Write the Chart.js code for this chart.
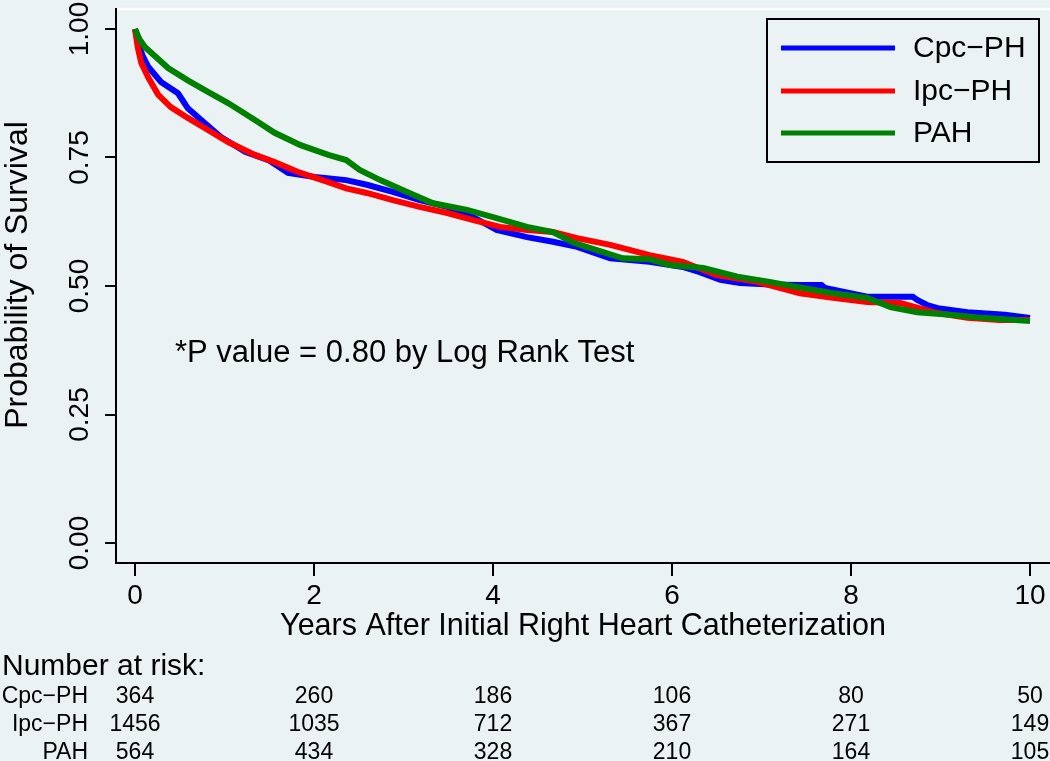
<!DOCTYPE html>
<html>
<head>
<meta charset="utf-8">
<script src="https://cdn.jsdelivr.net/npm/chart.js@4"></script>
<style>
html,body{margin:0;padding:0;background:#EAF2F3;}
canvas{display:block;}
</style>
</head>
<body>
<canvas id="km" width="1050" height="761"></canvas>
<script>
// curvas de sobrevida
const nomes = ["Cpc\u2212PH", "Ipc\u2212PH", "PAH"];
const cores = ["#0000FF", "#FF0000", "#008000"];

const cpcTempo = [0, 0.05, 0.09, 0.15, 0.29, 0.48, 0.59, 0.74, 0.96, 1.23, 1.49, 1.71, 2.01, 2.36, 2.59, 2.88, 3.18, 3.49, 3.78, 4.04, 4.38, 4.67, 4.94, 5.31, 5.75, 6.12, 6.31, 6.54, 6.76, 7.09, 7.43, 7.67, 7.71, 8.18, 8.69, 8.74, 8.85, 8.97, 9.3, 9.72, 10];
const cpcSobr  = [1.0, 0.965, 0.946, 0.926, 0.897, 0.875, 0.846, 0.823, 0.79, 0.761, 0.745, 0.72, 0.712, 0.706, 0.697, 0.683, 0.667, 0.654, 0.634, 0.609, 0.595, 0.586, 0.576, 0.554, 0.547, 0.537, 0.527, 0.512, 0.506, 0.503, 0.502, 0.502, 0.496, 0.479, 0.479, 0.473, 0.463, 0.457, 0.449, 0.444, 0.438];

const ipcTempo = [0, 0.03, 0.07, 0.15, 0.26, 0.4, 0.59, 0.82, 1.04, 1.34, 1.56, 1.85, 2.16, 2.36, 2.59, 2.88, 3.18, 3.49, 3.78, 4.08, 4.38, 4.67, 4.94, 5.31, 5.75, 6.12, 6.5, 6.95, 7.43, 7.8, 8.18, 8.55, 8.92, 9.3, 9.66, 10];
const ipcSobr  = [1.0, 0.965, 0.934, 0.905, 0.872, 0.848, 0.827, 0.803, 0.78, 0.755, 0.741, 0.72, 0.702, 0.69, 0.681, 0.667, 0.654, 0.642, 0.628, 0.615, 0.609, 0.605, 0.593, 0.58, 0.56, 0.547, 0.521, 0.508, 0.486, 0.477, 0.469, 0.467, 0.449, 0.438, 0.434, 0.434];

const pahTempo = [0, 0.05, 0.11, 0.37, 0.59, 0.82, 1.04, 1.34, 1.56, 1.85, 2.16, 2.36, 2.51, 2.74, 3.04, 3.33, 3.71, 4.0, 4.38, 4.67, 4.9, 5.16, 5.45, 5.75, 5.98, 6.35, 6.73, 7.09, 7.46, 7.8, 8.18, 8.44, 8.74, 9.11, 9.47, 10];
const pahSobr  = [1.0, 0.98, 0.965, 0.924, 0.9, 0.877, 0.856, 0.823, 0.798, 0.774, 0.755, 0.745, 0.726, 0.706, 0.683, 0.661, 0.648, 0.634, 0.615, 0.605, 0.584, 0.57, 0.554, 0.552, 0.541, 0.535, 0.518, 0.508, 0.496, 0.486, 0.477, 0.459, 0.449, 0.444, 0.438, 0.432];

const xTicks = [0, 2, 4, 6, 8, 10];
const yTicks = [0, 0.25, 0.5, 0.75, 1];
const yRotulos = ["0.00", "0.25", "0.50", "0.75", "1.00"];

// numero em risco
const riscoTempos = [0, 2, 4, 6, 8, 10];
const cpcRisco = [364, 260, 186, 106, 80, 50];
const ipcRisco = [1456, 1035, 712, 367, 271, 149];
const pahRisco = [564, 434, 328, 210, 164, 105];

const fonte = "'Liberation Sans', Arial, sans-serif";

function pontos(tempos, valores){
    return tempos.map((t, i) => ({x: t, y: valores[i]}));
}

const extras = {
    id: 'extras',
    beforeDraw(chart){
        const ctx = chart.ctx;
        ctx.save();
        ctx.fillStyle = '#EAF2F3';
        ctx.fillRect(0, 0, chart.width, chart.height);
        ctx.restore();
    },
    afterDraw(chart){
        const ctx = chart.ctx, ca = chart.chartArea;
        const xs = chart.scales.x, ys = chart.scales.y;
        ctx.save();

        // borda branca no topo
        ctx.strokeStyle = '#FFFFFF';
        ctx.lineWidth = 2.5;
        ctx.beginPath();
        ctx.moveTo(ca.left + 1, ca.top);
        ctx.lineTo(ca.right, ca.top);
        ctx.stroke();

        ctx.fillStyle = '#000';
        // rotulos do eixo y (girados)
        ctx.font = '28px ' + fonte;
        ctx.textAlign = 'center';
        ctx.textBaseline = 'alphabetic';
        yTicks.forEach((v, i) => {
            ctx.save();
            ctx.translate(88, ys.getPixelForValue(v));
            ctx.rotate(-Math.PI / 2);
            ctx.fillText(yRotulos[i], 0, 0);
            ctx.restore();
        });

        // titulo do eixo y
        ctx.font = '32px ' + fonte;
        ctx.save();
        ctx.translate(27, 275);
        ctx.rotate(-Math.PI / 2);
        ctx.fillText('Probability of Survival', 0, 0);
        ctx.restore();

        // p valor
        ctx.textAlign = 'left';
        ctx.font = '31px ' + fonte;
        ctx.fillText('*P value = 0.80 by Log Rank Test', 175, 362);

        // legenda
        ctx.font = '30px ' + fonte;
        ctx.strokeStyle = '#000';
        ctx.lineWidth = 2;
        ctx.strokeRect(767, 19, 272, 143);
        const linhasY = [48, 91, 133];
        chart.data.datasets.forEach((d, i) => {
            ctx.strokeStyle = d.borderColor;
            ctx.lineWidth = 5;
            ctx.beginPath();
            ctx.moveTo(781, linhasY[i]);
            ctx.lineTo(895, linhasY[i]);
            ctx.stroke();
            ctx.textBaseline = 'middle';
            ctx.fillText(d.label, 913, linhasY[i] + 1);
        });

        // tabela numero em risco
        ctx.textBaseline = 'alphabetic';
        ctx.textAlign = 'left';
        ctx.font = '30px ' + fonte;
        ctx.fillText('Number at risk:', 2, 675);
        ctx.font = '23px ' + fonte;
        const linhas = [cpcRisco, ipcRisco, pahRisco];
        const basesY = [703, 731, 759];
        linhas.forEach((vals, r) => {
            ctx.textAlign = 'right';
            ctx.fillText(nomes[r], 88, basesY[r]);
            ctx.textAlign = 'center';
            vals.forEach((n, j) => {
                ctx.fillText(String(n), xs.getPixelForValue(riscoTempos[j]), basesY[r]);
            });
        });

        ctx.restore();
    }
};

new Chart(document.getElementById('km'), {
    type: 'line',
    data: {
        datasets: [
            {label: nomes[0], data: pontos(cpcTempo, cpcSobr), borderColor: cores[0], borderWidth: 6, pointRadius: 0, tension: 0, fill: false, order: 3},
            {label: nomes[1], data: pontos(ipcTempo, ipcSobr), borderColor: cores[1], borderWidth: 6, pointRadius: 0, tension: 0, fill: false, order: 2},
            {label: nomes[2], data: pontos(pahTempo, pahSobr), borderColor: cores[2], borderWidth: 6, pointRadius: 0, tension: 0, fill: false, order: 1}
        ]
    },
    options: {
        responsive: false,
        animation: false,
        layout: {padding: {top: 9, left: 0, right: 0, bottom: 0}},
        plugins: {legend: {display: false}, tooltip: {enabled: false}},
        scales: {
            x: {
                type: 'linear', min: -0.2123, max: 10.2235,
                afterBuildTicks: s => { s.ticks = xTicks.map(v => ({value: v})); },
                afterFit: s => { s.height = 198; },
                grid: {display: true, drawOnChartArea: false, drawTicks: true, tickLength: 13, color: '#000', lineWidth: 2},
                border: {display: true, color: '#000', width: 2},
                ticks: {color: '#000', font: {family: fonte, size: 28}, padding: 3, maxRotation: 0, autoSkip: false},
                title: {display: true, text: 'Years After Initial Right Heart Catheterization', color: '#000', font: {family: fonte, size: 30.5}, padding: {top: 0, bottom: 116}}
            },
            y: {
                type: 'linear', min: -0.0389, max: 1.0389,
                afterBuildTicks: s => { s.ticks = yTicks.map(v => ({value: v})); },
                afterFit: s => { s.width = 116; },
                grid: {display: true, drawOnChartArea: false, drawTicks: true, tickLength: 11, color: '#000', lineWidth: 2},
                border: {display: true, color: '#000', width: 2},
                ticks: {display: false}
            }
        }
    },
    plugins: [extras]
});
</script>
</body>
</html>
